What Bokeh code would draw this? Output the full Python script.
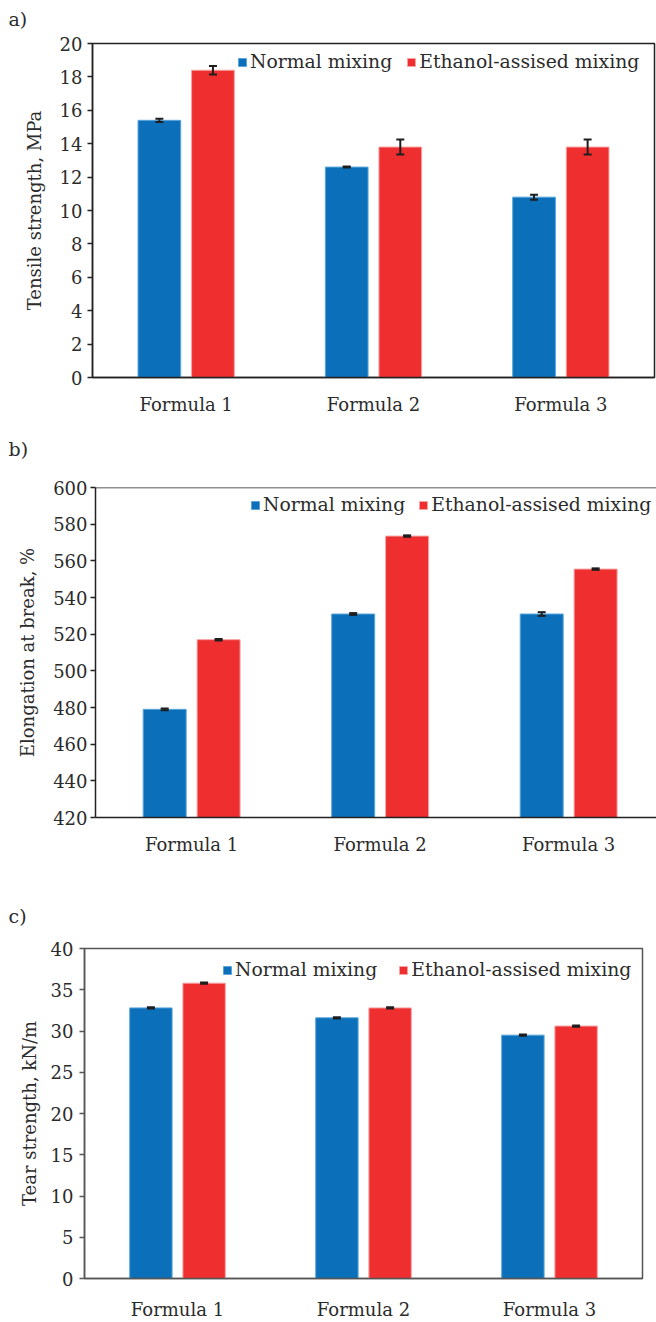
from bokeh.plotting import figure
from bokeh.models import (ColumnDataSource, Range1d, FixedTicker, Span, Title,
                          Legend, LegendItem, Whisker, TeeHead)
from bokeh.embed import file_html
from bokeh.resources import INLINE

# ---- data -------------------------------------------------------------
categories = ["Formula 1", "Formula 2", "Formula 3"]
series_names = ["Normal mixing", "Ethanol-assised mixing"]

tensile_normal = [15.4, 12.6, 10.8]
tensile_normal_err = [0.1, 0.03, 0.15]
tensile_ethanol = [18.4, 13.8, 13.8]
tensile_ethanol_err = [0.25, 0.45, 0.45]

elong_normal = [479.0, 531.0, 531.0]
elong_normal_err = [0.5, 0.5, 1.0]
elong_ethanol = [517.0, 573.5, 555.5]
elong_ethanol_err = [0.4, 0.4, 0.4]

tear_normal = [32.8, 31.6, 29.5]
tear_normal_err = [0.08, 0.08, 0.08]
tear_ethanol = [35.8, 32.8, 30.6]
tear_ethanol_err = [0.08, 0.08, 0.08]

# ---- style ------------------------------------------------------------
FONT = "DejaVu Serif"
TEXT = "#2b2b2b"
BLUE, BLUE_EDGE = "#0b70b9", "#5aa6dc"
RED, RED_EDGE = "#ee2e2f", "#f5a3a3"
OFFSET = 0.143
BAR_W = 0.228


def make_panel(tag, tag_gap, ylabel, normal, normal_err, ethanol, ethanol_err,
               y0, y1, step, height, borders, x_span, frame_color,
               legend_loc, legend_spacing, standoffs, closed_frame=True):
    left, right, top, bottom = borders
    p = figure(width=656, height=height, output_backend="svg",
               toolbar_location=None, x_range=Range1d(*x_span),
               y_range=Range1d(y0, y1), min_border_left=left,
               min_border_right=right, min_border_top=top,
               min_border_bottom=bottom)
    p.grid.visible = False
    p.background_fill_color = "white"
    p.border_fill_color = "white"

    # blank strip between the frame and the panel tag
    p.add_layout(Title(text=" ", text_font_size=f"{tag_gap}px", standoff=0), "above")

    # panel tag ("a)", "b)", ...) in the top-left corner
    p.title.text = tag
    p.title.align = "left"
    p.title.offset = 8 - left
    p.title.text_font = FONT
    p.title.text_font_size = "19px"
    p.title.text_font_style = "normal"
    p.title.text_color = TEXT

    if closed_frame:
        p.outline_line_color = frame_color
        p.outline_line_width = 1.5
    else:
        # open on the right: only a top rule
        p.outline_line_color = None
        p.add_layout(Span(location=y1, dimension="width",
                          line_color=frame_color, line_width=1.5))

    idx = list(range(len(categories)))
    src_n = ColumnDataSource(dict(
        x=[i + 0.5 - OFFSET for i in idx], top=normal,
        upper=[v + e for v, e in zip(normal, normal_err)],
        lower=[v - e for v, e in zip(normal, normal_err)]))
    src_e = ColumnDataSource(dict(
        x=[i + 0.5 + OFFSET for i in idx], top=ethanol,
        upper=[v + e for v, e in zip(ethanol, ethanol_err)],
        lower=[v - e for v, e in zip(ethanol, ethanol_err)]))

    r_n = p.vbar(x="x", top="top", bottom=y0, width=BAR_W, source=src_n,
                 fill_color=BLUE, line_color=BLUE_EDGE, line_width=1)
    r_e = p.vbar(x="x", top="top", bottom=y0, width=BAR_W, source=src_e,
                 fill_color=RED, line_color=RED_EDGE, line_width=1)

    for src in (src_n, src_e):
        p.add_layout(Whisker(
            base="x", upper="upper", lower="lower", source=src,
            line_color="#1e1e1e", line_width=2, level="overlay",
            upper_head=TeeHead(size=8, line_width=2, line_color="#1e1e1e"),
            lower_head=TeeHead(size=8, line_width=2, line_color="#1e1e1e")))

    # value axis
    ya = p.left[0]
    ya.ticker = FixedTicker(ticks=list(range(int(y0), int(y1) + 1, step)))
    ya.axis_label = ylabel
    ya.axis_label_text_font = FONT
    ya.axis_label_text_font_style = "normal"
    ya.axis_label_text_font_size = "18px"
    ya.axis_label_text_color = TEXT
    ya.axis_label_standoff = standoffs[1]
    ya.major_label_text_font = FONT
    ya.major_label_text_font_size = "18px"
    ya.major_label_text_color = TEXT
    ya.major_label_standoff = standoffs[0]
    ya.major_tick_out = 5
    ya.major_tick_in = 0
    ya.major_tick_line_color = frame_color
    ya.major_tick_line_width = 1.5
    ya.minor_tick_line_color = None
    ya.axis_line_color = frame_color
    ya.axis_line_width = 1.5

    # category axis
    xa = p.below[0]
    xa.ticker = FixedTicker(ticks=[i + 0.5 for i in idx])
    xa.major_label_overrides = {i + 0.5: c for i, c in zip(idx, categories)}
    xa.major_label_text_font = FONT
    xa.major_label_text_font_size = "18px"
    xa.major_label_text_color = TEXT
    xa.major_label_standoff = standoffs[2]
    xa.major_tick_line_color = None
    xa.minor_tick_line_color = None
    xa.axis_line_color = frame_color
    xa.axis_line_width = 1.5

    legend = Legend(items=[LegendItem(label=series_names[0], renderers=[r_n]),
                           LegendItem(label=series_names[1], renderers=[r_e])],
                    orientation="horizontal", location=legend_loc,
                    glyph_width=10, glyph_height=10, label_standoff=3,
                    spacing=legend_spacing, padding=0, margin=0,
                    label_text_font=FONT, label_text_font_size="18.8px",
                    label_text_color=TEXT, background_fill_alpha=0,
                    border_line_color=None)
    p.add_layout(legend)
    return p


pa = make_panel("a)", 7, "Tensile strength, MPa", tensile_normal, tensile_normal_err,
                tensile_ethanol, tensile_ethanol_err, 0, 20, 2,
                430, (92, 2, 42, 53), (0, 3), "#222222",
                (145, 305), 14, (5, 12, 10))
pb = make_panel("b)", 19, "Elongation at break, %", elong_normal, elong_normal_err,
                elong_ethanol, elong_ethanol_err, 420, 600, 20,
                465, (95, 0, 57, 78), (-0.01, 2.966), "#222222",
                (155, 302), 13, (3, 12, 10), closed_frame=False)
pc = make_panel("c)", 13, "Tear strength, kN/m", tear_normal, tear_normal_err,
                tear_ethanol, tear_ethanol_err, 0, 40, 5,
                427, (84, 14, 53, 38), (0, 3), "#555555",
                (138, 298), 21, (6, 8, 14))

open("out.html", "w").write(file_html([pa, pb, pc], INLINE))
